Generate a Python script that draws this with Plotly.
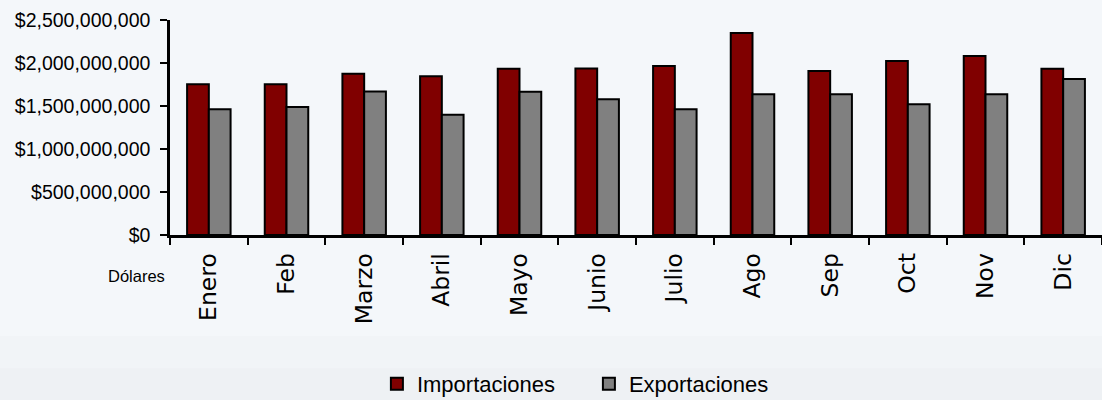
import plotly.graph_objects as go

months = ["Enero", "Feb", "Marzo", "Abril", "Mayo", "Junio", "Julio", "Ago", "Sep", "Oct", "Nov", "Dic"]
importaciones = [1.752e9, 1.752e9, 1.876e9, 1.845e9, 1.934e9, 1.936e9, 1.965e9, 2.349e9, 1.907e9, 2.023e9, 2.081e9, 1.934e9]
exportaciones = [1.461e9, 1.488e9, 1.670e9, 1.399e9, 1.667e9, 1.578e9, 1.461e9, 1.636e9, 1.636e9, 1.519e9, 1.636e9, 1.814e9]
y_ticks = [0, 5e8, 1e9, 1.5e9, 2e9, 2.5e9]
y_tick_labels = ["$0", "$500,000,000", "$1,000,000,000", "$1,500,000,000", "$2,000,000,000", "$2,500,000,000"]

SANS = "Liberation Sans, Arial, sans-serif"

fig = go.Figure()
fig.add_trace(go.Bar(name="Importaciones", x=months, y=importaciones,
                     marker=dict(color="#800000", line=dict(color="black", width=2))))
fig.add_trace(go.Bar(name="Exportaciones", x=months, y=exportaciones,
                     marker=dict(color="#808080", line=dict(color="black", width=2))))

fig.update_layout(
    width=1102, height=400,
    margin=dict(l=170, r=0, t=20, b=165, autoexpand=False),
    paper_bgcolor="#f4f7fa", plot_bgcolor="#f4f7fa",
    barmode="group", bargap=0.44, bargroupgap=0,
    showlegend=True,
    legend=dict(orientation="h", x=0.222, xanchor="left", y=-0.693, yanchor="middle",
                font=dict(family=SANS, size=22, color="black"),
                bgcolor="rgba(0,0,0,0)", itemwidth=30, traceorder="normal",
                entrywidth=167, entrywidthmode="pixels"),
    xaxis=dict(showline=True, linecolor="black", linewidth=2.5,
               ticks="outside", tickson="boundaries", ticklen=7, tickcolor="black", tickwidth=1.5,
               tickangle=-90, tickfont=dict(family="DejaVu Sans", size=23.5, color="black"),
               showgrid=False, zeroline=False, ticklabelstandoff=6),
    yaxis=dict(range=[0, 2.5e9], tickvals=y_ticks, ticktext=y_tick_labels,
               showline=True, linecolor="black", linewidth=2.5,
               ticks="outside", ticklen=7, tickcolor="black", tickwidth=1.5,
               tickfont=dict(family=SANS, size=19.5, color="black"),
               showgrid=False, zeroline=False, ticklabelstandoff=6),
    annotations=[dict(text="Dólares", xref="paper", yref="paper", x=-0.003, y=-0.19,
                      xanchor="right", yanchor="middle", showarrow=False,
                      font=dict(family=SANS, size=16.5, color="black"))],
    shapes=[
        dict(type="rect", xref="paper", yref="paper", x0=-0.2, x1=1.1, y0=-0.77, y1=-0.47,
             fillcolor="#f1f4f7", line=dict(width=0), layer="below"),
        dict(type="rect", xref="paper", yref="paper", x0=-0.2, x1=1.1, y0=-0.77, y1=-0.62,
             fillcolor="#eef1f4", line=dict(width=0), layer="below"),
    ],
)

fig.write_html("out.html", config={"displayModeBar": False},
               post_script="document.body.style.margin='0';document.body.style.overflow='hidden';")
